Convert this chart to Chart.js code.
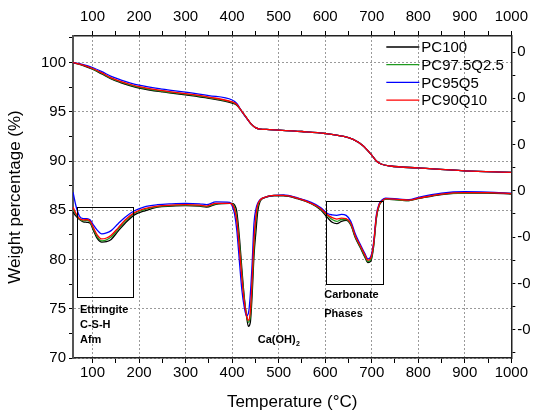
<!DOCTYPE html>
<html>
<head>
<meta charset="utf-8">
<script src="https://cdn.jsdelivr.net/npm/chart.js@4.4.0/dist/chart.umd.min.js"></script>
<style>
  html, body { margin: 0; padding: 0; background: #fff; }
  #wrap { width: 533px; height: 416px; }
</style>
</head>
<body>
<div id="wrap"><canvas id="chart" width="533" height="416"></canvas></div>
<script>
// Series names
const seriesNames = ['PC100', 'PC97.5Q2.5', 'PC95Q5', 'PC90Q10'];

// Weight loss (TGA), left axis
const tgaTemps = [58, 80, 100, 120, 140, 160, 180, 200, 250, 300, 350, 400, 410, 420, 430, 440, 450, 460, 480, 500, 550, 600, 640, 660, 680, 700, 710, 720, 740, 800, 900, 1000];
const tgaPC100 = [100, 99.7, 99.32, 98.84, 98.33, 97.97, 97.67, 97.42, 97.02, 96.72, 96.37, 95.88, 95.68, 95.1, 94.45, 93.8, 93.4, 93.25, 93.2, 93.15, 93.0, 92.8, 92.5, 92.2, 91.6, 90.6, 90.0, 89.7, 89.5, 89.3, 89.0, 88.85];
const tgaPC975 = [100, 99.73, 99.37, 98.9, 98.4, 98.04, 97.74, 97.49, 97.09, 96.79, 96.44, 95.95, 95.72, 95.1, 94.45, 93.8, 93.4, 93.25, 93.2, 93.15, 93.0, 92.8, 92.5, 92.2, 91.6, 90.6, 90.0, 89.7, 89.5, 89.3, 89.0, 88.85];
const tgaPC95 = [100, 99.8, 99.5, 99.08, 98.6, 98.25, 97.95, 97.7, 97.3, 97.0, 96.65, 96.2, 95.85, 95.1, 94.4, 93.8, 93.4, 93.25, 93.2, 93.15, 93.0, 92.8, 92.5, 92.2, 91.6, 90.6, 90.0, 89.7, 89.5, 89.3, 89.0, 88.85];
const tgaPC90 = [100, 99.75, 99.4, 98.95, 98.45, 98.1, 97.8, 97.55, 97.15, 96.85, 96.5, 96.0, 95.75, 95.1, 94.45, 93.8, 93.4, 93.25, 93.2, 93.15, 93.0, 92.8, 92.5, 92.2, 91.6, 90.6, 90.0, 89.7, 89.5, 89.3, 89.0, 88.85];

// Derivative (DTG), right axis
const dtgTemps = [58, 65, 72, 80, 88, 95, 102, 110, 120, 130,
  140, 155, 170, 190, 210, 240, 270, 300, 330, 345,
  365, 395, 400, 405, 410, 416, 421, 426, 431, 435,
  439, 443, 447, 451, 455, 460, 470, 490, 510, 540,
  570, 590, 605, 615, 625, 635, 645, 655, 665, 675,
  685, 692, 698, 704, 710, 716, 722, 730, 760, 780,
  800, 850, 900, 950, 1000];
const dtgPC100 = [-0.046, -0.055, -0.062, -0.067, -0.068, -0.070, -0.086, -0.103, -0.111, -0.110,
  -0.105, -0.087, -0.070, -0.052, -0.044, -0.035, -0.033, -0.032, -0.033, -0.035,
  -0.029, -0.027, -0.027, -0.030, -0.045, -0.105, -0.170, -0.229, -0.272, -0.293,
  -0.285, -0.225, -0.140, -0.090, -0.045, -0.023, -0.015, -0.011, -0.011, -0.017,
  -0.028, -0.041, -0.058, -0.068, -0.071, -0.066, -0.064, -0.074, -0.102, -0.122,
  -0.143, -0.155, -0.152, -0.121, -0.060, -0.032, -0.023, -0.018, -0.020, -0.021,
  -0.017, -0.008, -0.005, -0.005, -0.007];
const dtgPC975 = [-0.040, -0.052, -0.061, -0.065, -0.064, -0.068, -0.083, -0.099, -0.108, -0.106,
  -0.100, -0.083, -0.066, -0.049, -0.041, -0.034, -0.032, -0.031, -0.032, -0.034,
  -0.028, -0.027, -0.028, -0.036, -0.058, -0.118, -0.180, -0.232, -0.270, -0.284,
  -0.272, -0.205, -0.120, -0.065, -0.034, -0.021, -0.014, -0.010, -0.010, -0.016,
  -0.027, -0.039, -0.054, -0.062, -0.066, -0.062, -0.062, -0.072, -0.100, -0.120,
  -0.141, -0.153, -0.149, -0.118, -0.058, -0.031, -0.022, -0.018, -0.020, -0.021,
  -0.016, -0.007, -0.005, -0.004, -0.006];
const dtgPC95 = [-0.003, -0.035, -0.055, -0.060, -0.060, -0.063, -0.074, -0.085, -0.093, -0.091,
  -0.086, -0.071, -0.057, -0.043, -0.035, -0.030, -0.028, -0.027, -0.028, -0.030,
  -0.024, -0.025, -0.032, -0.049, -0.085, -0.157, -0.215, -0.251, -0.270, -0.265,
  -0.225, -0.157, -0.070, -0.040, -0.027, -0.019, -0.014, -0.010, -0.009, -0.015,
  -0.025, -0.036, -0.049, -0.052, -0.053, -0.051, -0.053, -0.066, -0.094, -0.115,
  -0.135, -0.147, -0.142, -0.112, -0.052, -0.028, -0.020, -0.016, -0.018, -0.019,
  -0.014, -0.005, -0.002, -0.003, -0.005];
const dtgPC90 = [-0.035, -0.050, -0.060, -0.063, -0.062, -0.066, -0.080, -0.095, -0.104, -0.102,
  -0.096, -0.080, -0.063, -0.047, -0.039, -0.033, -0.031, -0.030, -0.031, -0.033,
  -0.027, -0.027, -0.029, -0.040, -0.065, -0.130, -0.190, -0.238, -0.270, -0.280,
  -0.262, -0.190, -0.105, -0.055, -0.030, -0.020, -0.014, -0.010, -0.010, -0.016,
  -0.027, -0.038, -0.052, -0.058, -0.061, -0.059, -0.060, -0.070, -0.098, -0.118,
  -0.138, -0.150, -0.145, -0.115, -0.055, -0.030, -0.022, -0.017, -0.019, -0.020,
  -0.016, -0.007, -0.004, -0.004, -0.006];

// Boxes around the decomposition regions (temperature / weight %)
const boxEttringite = [67, 188, 76.2, 85.3];
const boxCarbonate = [601, 723, 77.55, 85.95];

const colors = ['#000000', '#1f9a1f', '#0000ff', '#ff0000'];
const FONT = "'Liberation Sans', Arial, sans-serif";

const toPoints = (xs, ys) => xs.map((x, i) => ({ x: x, y: ys[i] }));

// later series sit on top (lower order = drawn last)
function makeSet(idx, xs, ys, axis) {
    return {
        label: seriesNames[idx],
        data: toPoints(xs, ys),
        borderColor: colors[idx],
        backgroundColor: colors[idx],
        borderWidth: 1.3,
        pointRadius: 0,
        cubicInterpolationMode: 'monotone',
        order: 3 - idx,
        yAxisID: axis
    };
}

const datasets = [
    makeSet(0, tgaTemps, tgaPC100, 'y'),
    makeSet(1, tgaTemps, tgaPC975, 'y'),
    makeSet(2, tgaTemps, tgaPC95, 'y'),
    makeSet(3, tgaTemps, tgaPC90, 'y'),
    makeSet(0, dtgTemps, dtgPC100, 'y2'),
    makeSet(1, dtgTemps, dtgPC975, 'y2'),
    makeSet(2, dtgTemps, dtgPC95, 'y2'),
    makeSet(3, dtgTemps, dtgPC90, 'y2')
];

const isMajor = (v, step) => Math.abs(v / step - Math.round(v / step)) < 1e-6;
const gridColor = step => ctx => (ctx.tick && isMajor(ctx.tick.value, step)) ? '#9a9a9a' : 'rgba(0,0,0,0)';

// legend, boxes and labels drawn on top
const overlay = {
    id: 'overlay',
    afterDatasetsDraw(chart) {
        const ctx = chart.ctx;
        const sx = chart.scales.x, sy = chart.scales.y;
        ctx.save();

        // boxes
        ctx.strokeStyle = '#000';
        ctx.lineWidth = 1;
        [boxEttringite, boxCarbonate].forEach(b => {
            const x1 = sx.getPixelForValue(b[0]), x2 = sx.getPixelForValue(b[1]);
            const y1 = sy.getPixelForValue(b[3]), y2 = sy.getPixelForValue(b[2]);
            ctx.strokeRect(Math.round(x1) + 0.5, Math.round(y1) + 0.5, Math.round(x2 - x1), Math.round(y2 - y1));
        });

        // region labels
        ctx.fillStyle = '#000';
        ctx.textAlign = 'left';
        ctx.textBaseline = 'middle';
        ctx.font = 'bold 11px ' + FONT;
        let x = sx.getPixelForValue(73), y = sy.getPixelForValue(74.85);
        ['Ettringite', 'C-S-H', 'Afm'].forEach((t, i) => ctx.fillText(t, x, y + i * 14.7));

        x = sx.getPixelForValue(598); y = sy.getPixelForValue(76.45);
        ctx.fillText('Carbonate', x, y);
        ctx.fillText('Phases', x, y + 19.3);

        x = sx.getPixelForValue(455); y = sy.getPixelForValue(71.8);
        ctx.fillText('Ca(OH)', x, y);
        const w = ctx.measureText('Ca(OH)').width;
        ctx.font = 'bold 7px ' + FONT;
        ctx.fillText('2', x + w + 0.5, y + 4);

        // legend
        ctx.font = '15px ' + FONT;
        const lx = chart.chartArea.right - 125;
        seriesNames.forEach((name, i) => {
            const ly = chart.chartArea.top + 11 + i * 17.7;
            ctx.strokeStyle = colors[i];
            ctx.lineWidth = 1.3;
            ctx.beginPath();
            ctx.moveTo(lx, ly);
            ctx.lineTo(lx + 33, ly);
            ctx.stroke();
            ctx.fillStyle = '#000';
            ctx.fillText(name, lx + 35, ly + 1);
        });
        ctx.restore();
    }
};

const tickFont = { family: FONT, size: 15 };

new Chart(document.getElementById('chart').getContext('2d'), {
    type: 'line',
    data: { datasets: datasets },
    options: {
        responsive: false,
        animation: false,
        layout: { padding: 0 },
        plugins: {
            legend: { display: false },
            tooltip: { enabled: false }
        },
        scales: {
            x: {
                type: 'linear',
                position: 'bottom',
                min: 58,
                max: 1000,
                afterFit: s => { s.height = 58; },
                ticks: {
                    stepSize: 50,
                    includeBounds: false,
                    autoSkip: false,
                    maxRotation: 0,
                    padding: 1,
                    color: '#000',
                    font: tickFont,
                    callback: v => isMajor(v, 100) ? v : ''
                },
                grid: { color: gridColor(100), lineWidth: 1, tickColor: '#000', tickLength: 5 },
                border: { color: '#222', width: 1.5, dash: [2, 2] },
                title: {
                    display: true,
                    text: 'Temperature (°C)',
                    color: '#000',
                    font: { family: FONT, size: 17 },
                    padding: { top: 0, bottom: 3 }
                }
            },
            x2: {
                type: 'linear',
                position: 'top',
                min: 58,
                max: 1000,
                afterFit: s => { s.height = 36; },
                ticks: {
                    stepSize: 50,
                    includeBounds: false,
                    autoSkip: false,
                    maxRotation: 0,
                    padding: 5,
                    color: '#000',
                    font: tickFont,
                    callback: v => isMajor(v, 100) ? v : ''
                },
                grid: { drawOnChartArea: false, tickColor: '#000', tickLength: 5 },
                border: { color: '#222', width: 1.5 }
            },
            y: {
                type: 'linear',
                position: 'left',
                min: 70,
                max: 102.7,
                afterFit: s => { s.width = 73; },
                ticks: {
                    stepSize: 2.5,
                    includeBounds: false,
                    autoSkip: false,
                    padding: 3,
                    color: '#000',
                    font: tickFont,
                    callback: v => isMajor(v, 5) ? v : ''
                },
                grid: { color: gridColor(5), lineWidth: 1, tickColor: '#000', tickLength: 4 },
                border: { color: '#555', width: 2, dash: [2, 2] },
                title: {
                    display: true,
                    text: 'Weight percentage (%)',
                    color: '#000',
                    font: { family: FONT, size: 17 },
                    padding: { top: 5, bottom: 0 }
                }
            },
            y2: {
                type: 'linear',
                position: 'right',
                min: -0.3613,
                max: 0.3346,
                afterFit: s => { s.width = 20; },
                ticks: {
                    stepSize: 0.05,
                    includeBounds: false,
                    autoSkip: false,
                    padding: 2,
                    color: '#000',
                    font: tickFont,
                    callback: v => isMajor(v, 0.1) ? (v < -1e-9 ? '-0' : '0') : ''
                },
                grid: { drawOnChartArea: false, tickColor: '#000', tickLength: 4 },
                border: { color: '#222', width: 1.5 }
            }
        }
    },
    plugins: [overlay]
});
</script>
</body>
</html>
